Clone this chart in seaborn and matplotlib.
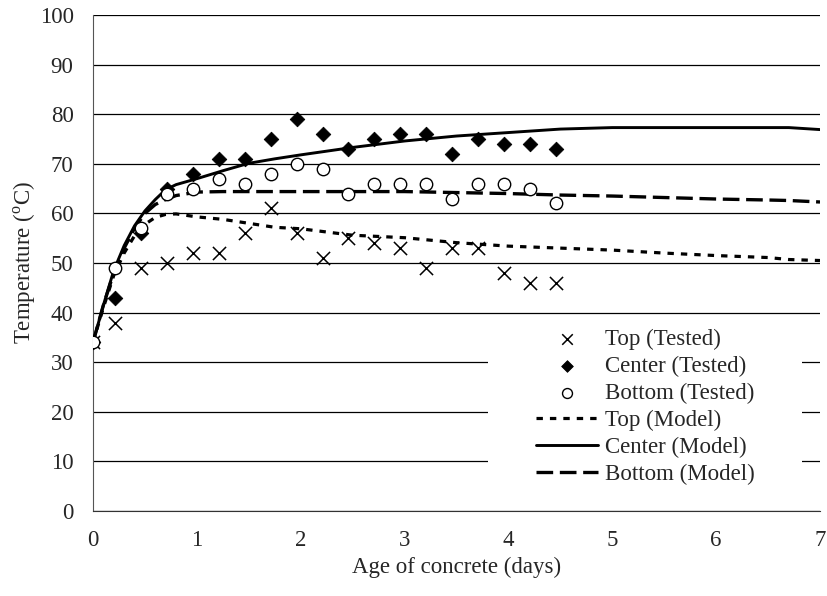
import numpy as np
import pandas as pd
import matplotlib
matplotlib.use("Agg")
import matplotlib.pyplot as plt
from matplotlib.patches import Rectangle
import seaborn as sns

# Tested temperatures
test_days = [0, 0.21, 0.46, 0.71, 0.96, 1.21, 1.46, 1.71, 1.96, 2.21,
             2.46, 2.71, 2.96, 3.21, 3.46, 3.71, 3.96, 4.21, 4.46]
top_tested = [34, 38, 49, 50, 52, 52, 56, 61, 56, 51, 55, 54, 53, 49, 53, 53, 48, 46, 46]
center_tested = [34, 43, 56, 65, 68, 71, 71, 75, 79, 76, 73, 75, 76, 76, 72, 75, 74, 74, 73]
bottom_tested = [34, 49, 57, 64, 65, 67, 66, 68, 70, 69, 64, 66, 66, 66, 63, 66, 66, 65, 62]

# Model curves
model_days = [0, 0.1, 0.2, 0.3, 0.4, 0.5, 0.6, 0.7, 0.8, 1.0, 1.25, 1.5, 1.75, 2.0,
              2.5, 3.0, 3.5, 4.0, 4.5, 5.0, 5.5, 6.0, 6.5, 6.7, 7.0]
top_model = [34, 41, 47.5, 52, 55.5, 57.8, 59.2, 59.8, 59.9, 59.3, 58.8, 58.0, 57.2, 56.9,
             55.6, 55.1, 54.1, 53.4, 53.0, 52.6, 52.0, 51.5, 51.1, 50.7, 50.5]
center_model = [34, 41.5, 48.5, 53.5, 57.5, 60.5, 62.8, 64.8, 65.8, 67.0, 68.6, 70.1, 71.0, 71.8,
                73.3, 74.6, 75.6, 76.3, 77.0, 77.3, 77.3, 77.3, 77.3, 77.3, 76.9]
bottom_model = [34, 41.5, 48, 53, 57, 60, 61.8, 62.8, 63.6, 64.3, 64.4, 64.4, 64.4, 64.4,
                64.4, 64.4, 64.2, 64.0, 63.7, 63.5, 63.2, 62.9, 62.7, 62.6, 62.3]

sns.set_style("white")
plt.rcParams['font.family'] = ['Liberation Serif', 'DejaVu Serif']
plt.rcParams['mathtext.fontset'] = 'custom'
plt.rcParams['mathtext.rm'] = 'Liberation Serif'
plt.rcParams['font.size'] = 16.5

fig = plt.figure(figsize=(8.27, 5.96), dpi=100)
ax = fig.add_axes([93 / 827, 85 / 596, 727 / 827, 496 / 596])

tested = pd.DataFrame({"day": test_days, "top": top_tested,
                       "center": center_tested, "bottom": bottom_tested})
model = pd.DataFrame({"day": model_days, "top": top_model,
                      "center": center_model, "bottom": bottom_model})

# model lines
sns.lineplot(data=model, x="day", y="top", ax=ax, color="black", lw=2.3,
             linestyle=(0, (2.0, 2.2)), label="Top (Model)", zorder=3)
sns.lineplot(data=model, x="day", y="center", ax=ax, color="black", lw=2.1,
             label="Center (Model)", zorder=3)
sns.lineplot(data=model, x="day", y="bottom", ax=ax, color="black", lw=2.4,
             linestyle=(0, (5.0, 2.0)), label="Bottom (Model)", zorder=3)

# tested points
sns.scatterplot(data=tested, x="day", y="top", ax=ax, marker="x", s=90,
                color="black", linewidth=1.1, label="Top (Tested)", zorder=4)
sns.scatterplot(data=tested, x="day", y="center", ax=ax, marker="D", s=55,
                color="black", edgecolor="black", label="Center (Tested)", zorder=4)
sns.scatterplot(data=tested, x="day", y="bottom", ax=ax, marker="o", s=80,
                facecolor="white", edgecolor="black", linewidth=1.0,
                label="Bottom (Tested)", zorder=4)

ax.set_xlim(0, 7)
ax.set_ylim(0, 100)
ax.set_xticks(range(0, 8))
ax.set_yticks(range(0, 101, 10))
ax.yaxis.grid(True, color="black", lw=0.9)
ax.set_axisbelow(True)
for s in ["top", "right"]:
    ax.spines[s].set_visible(False)
ax.spines["left"].set_color("#555555")
ax.spines["bottom"].set_color("#333333")
ax.tick_params(axis="both", direction="out", length=6, width=1, color="#333333",
               labelsize=16.5, pad=8)

ax.set_xlabel("Age of concrete (days)", fontsize=16.5, labelpad=4)
ax.set_ylabel(r"Temperature ($^{\rm o}$C)", fontsize=16.5, labelpad=1)

# white box behind the legend hides the gridlines there
ax.add_patch(Rectangle((0.543, 0.022), 0.432, 0.366, transform=ax.transAxes,
                       facecolor="white", edgecolor="none", zorder=1))

h, l = ax.get_legend_handles_labels()
order = ["Top (Tested)", "Center (Tested)", "Bottom (Tested)",
         "Top (Model)", "Center (Model)", "Bottom (Model)"]
hd = dict(zip(l, h))
ax.legend([hd[k] for k in order], order, loc="center", bbox_to_anchor=(0.76, 0.21),
          frameon=False, fontsize=16.5, labelspacing=0.26, handlelength=2.7,
          handletextpad=0.3, markerscale=0.8)

fig.savefig("out.png", dpi=100)
